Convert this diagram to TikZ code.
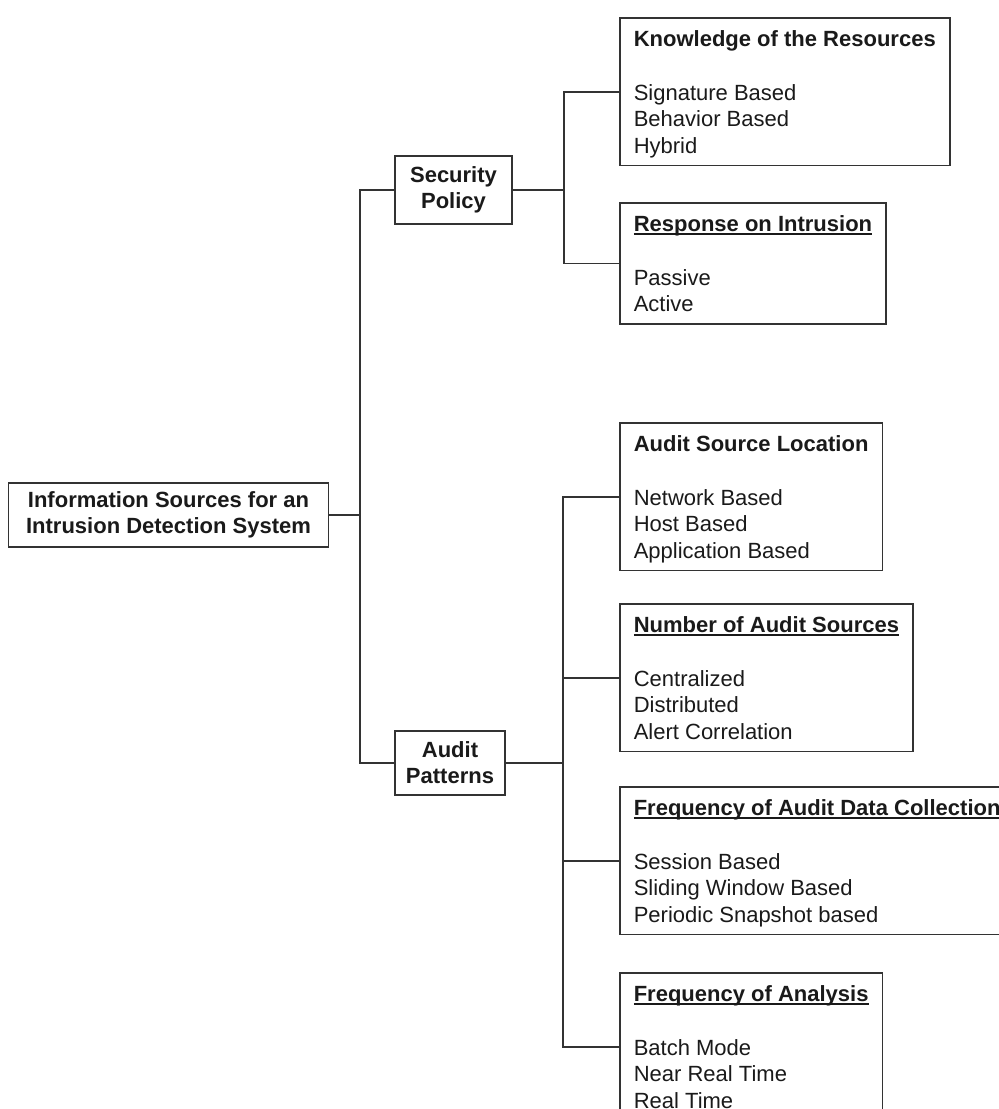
\documentclass[tikz,border=0pt]{standalone}
\usepackage{fontspec}
\setmainfont{Liberation Sans}
\definecolor{ink}{HTML}{1A1A1A}
\definecolor{edge}{HTML}{333333}
% underline sitting just below the baseline
\newsavebox\ulbox
\newcommand\ulin[1]{\sbox\ulbox{#1}\rlap{\rule[-3pt]{\wd\ulbox}{1.5pt}}\usebox\ulbox}
% invisible struts that fix the space above the first line and below the last
\newcommand\topstrut{\rule{0pt}{23pt}}
\newcommand\botstrut{\rule[-6pt]{0pt}{6pt}}
\begin{document}
\begin{tikzpicture}[x=1pt,y=-1pt,
  every node/.style={font=\fontsize{22}{26.7}\selectfont, text=ink},
  link/.style={draw=edge, line width=1.6pt},
  hub/.style={link, align=center, inner sep=0pt,
    font=\fontsize{22}{26}\selectfont\bfseries},
  leaf/.style={link, align=left, anchor=north west, inner xsep=14pt,
    inner ysep=6pt}]
\useasboundingbox (0,0) rectangle (999,1109);
\clip (0,0) rectangle (999,1109);
\fill[white] (0,0) rectangle (999,1109);

% left-hand hierarchy
\node[hub, minimum width=320pt, minimum height=64pt] (root) at (168.5,515)
  {Information Sources for an\\Intrusion Detection System};
\node[hub, minimum width=117pt, minimum height=68pt] (sec) at (453.5,190)
  {Security\\Policy};
\node[hub, minimum width=110pt, minimum height=64pt] (aud) at (450,763)
  {Audit\\Patterns};

% security policy leaves
\node[leaf] (know) at (619,17)
  {\topstrut\textbf{Knowledge of the Resources}\\[26.7pt]Signature Based\\Behavior Based\\Hybrid\botstrut};
\node[leaf] (resp) at (619,202)
  {\topstrut\textbf{\ulin{Response on Intrusion}}\\[26.7pt]Passive\\Active\botstrut};

% audit pattern leaves
\node[leaf] (loc) at (619,422)
  {\topstrut\textbf{Audit Source Location}\\[26.7pt]Network Based\\Host Based\\Application Based\botstrut};
\node[leaf] (num) at (619,603)
  {\topstrut\textbf{\ulin{Number of Audit Sources}}\\[26.7pt]Centralized\\Distributed\\Alert Correlation\botstrut};
\node[leaf] (freq) at (619,786)
  {\topstrut\textbf{\ulin{Frequency of Audit Data Collection}}\\[26.7pt]Session Based\\Sliding Window Based\\Periodic Snapshot based\botstrut};
\node[leaf] (ana) at (619,972)
  {\topstrut\textbf{\ulin{Frequency of Analysis}}\\[26.7pt]Batch Mode\\Near Real Time\\Real Time\botstrut};

% bus lines
\coordinate (rootbus) at (360,0);
\coordinate (secbus) at (564,0);
\coordinate (audbus) at (563,0);

\draw[link] (root.east) -- (root.east -| rootbus);
\draw[link] (sec.west) -- (sec.west -| rootbus) -- (aud.west -| rootbus) -- (aud.west);

\draw[link] (sec.east) -- (sec.east -| secbus);
\draw[link] (know.west) -- (know.west -| secbus) -- (resp.west -| secbus) -- (resp.west);

\draw[link] (aud.east) -- (aud.east -| audbus);
\draw[link] (loc.west) -- (loc.west -| audbus) -- (ana.west -| audbus) -- (ana.west);
\draw[link] (num.west) -- (num.west -| audbus);
\draw[link] (freq.west) -- (freq.west -| audbus);
\end{tikzpicture}
\end{document}
